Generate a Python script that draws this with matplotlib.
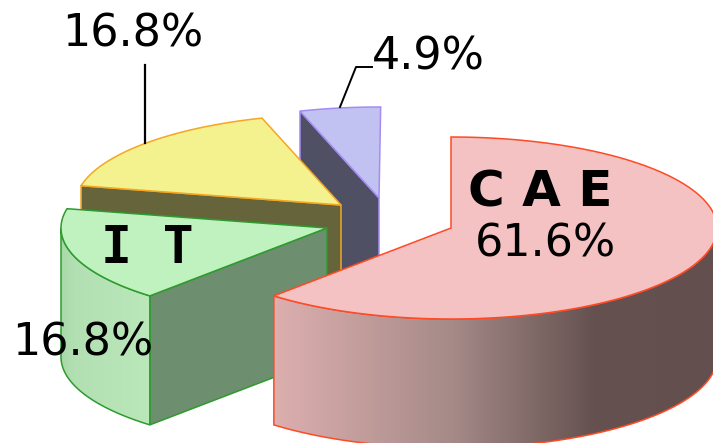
import numpy as np
import matplotlib.pyplot as plt
from matplotlib.patches import Polygon
from matplotlib.colors import LinearSegmentedColormap

# data
names = ["C A E", "I T", "Yellow", "Blue"]
values = [61.6, 16.8, 16.8, 4.9]
value_labels = ["61.6%", "16.8%", "16.8%", "4.9%"]

# 3d look of the pie, in pixels
rx = 266
ry = 91
depth = 129
centers = [(451, 228), (327, 228), (341, 205), (379, 198)]
top_cols = ["#f4c2c2", "#c0f2c0", "#f4f28f", "#c2c2f2"]
edge_cols = ["#ff4a24", "#2e9b2e", "#f5a623", "#a58cf5"]
face_cols = ["#63504e", "#6e8e70", "#65643b", "#505064"]

fig = plt.figure(figsize=(7.13, 4.43), dpi=100)
ax = fig.add_axes([0, 0, 1, 1])


def arc(center, a0, a1):
    # angles clockwise from 12 o'clock
    t = np.radians(np.linspace(a0, a1, 200))
    return np.column_stack([center[0] + rx * np.sin(t), center[1] - ry * np.cos(t)])


def gradient(poly, stops, x0, x1, z):
    cmap = LinearSegmentedColormap.from_list("wall", stops)
    im = ax.imshow(np.linspace(0, 1, 256).reshape(1, -1), cmap=cmap, aspect="auto",
                   extent=(x0, x1, 460, 0), zorder=z)
    im.set_clip_path(poly)


wall_stops = [
    [(0, "#ddafaf"), (0.4, "#a58a88"), (0.72, "#655250"), (1, "#63504e")],
    [(0, "#a8d8a8"), (0.15, "#b3e0b3"), (1, "#bae8ba")],
]

# back slices first, the big one last
starts = np.cumsum([0] + values[:-1]) * 3.6
order = [3, 2, 1, 0]
for n, i in enumerate(order):
    c = centers[i]
    a0 = starts[i]
    a1 = a0 + values[i] * 3.6
    z = 2 + n * 3
    rim = arc(c, a0, a1)

    # flat cut side that looks to the viewer
    if i != 0:
        p = rim[0]
        side = np.array([p, c, (c[0], c[1] + depth), (p[0], p[1] + depth)])
        ax.add_patch(Polygon(side, closed=True, fc=face_cols[i], ec=edge_cols[i], lw=1.1, zorder=z))

    # curved wall, only the front half of the rim
    lo = max(a0, 90)
    hi = min(a1, 270)
    if lo < hi:
        front = arc(c, lo, hi)
        low = front[::-1] + [0, depth]
        wall = Polygon(np.vstack([front, low]), closed=True, fc="none", ec=edge_cols[i], lw=1.1, zorder=z + 1)
        ax.add_patch(wall)
        gradient(wall, wall_stops[0 if i == 0 else 1], front[:, 0].min(), front[:, 0].max(), z)

    # top
    top = np.vstack([[c], rim])
    ax.add_patch(Polygon(top, closed=True, fc=top_cols[i], ec=edge_cols[i], lw=1.1, zorder=z + 2))

ax.set_xlim(0, 713)
ax.set_ylim(443, 0)
ax.axis("off")

# leader lines
ax.plot([145, 145], [65, 143], color="black", lw=1.6, zorder=30)
ax.plot([372, 356, 340], [67, 67, 107], color="black", lw=1.4, zorder=30)

# labels
ax.text(133, 34, value_labels[2], fontsize=32, ha="center", va="center", zorder=31)
ax.text(428.5, 57, value_labels[3], fontsize=32, ha="center", va="center", zorder=31)
ax.text(83, 343, value_labels[1], fontsize=32, ha="center", va="center", zorder=31)
ax.text(545, 244, value_labels[0], fontsize=32, ha="center", va="center", zorder=31)
ax.text(540, 192, names[0], fontsize=36, fontweight="bold", ha="center", va="center", zorder=31)
ax.text(147, 249, names[1], fontsize=37, fontweight="bold", family="DejaVu Sans Mono", ha="center", va="center", zorder=31)

plt.savefig("out.png", dpi=100)
